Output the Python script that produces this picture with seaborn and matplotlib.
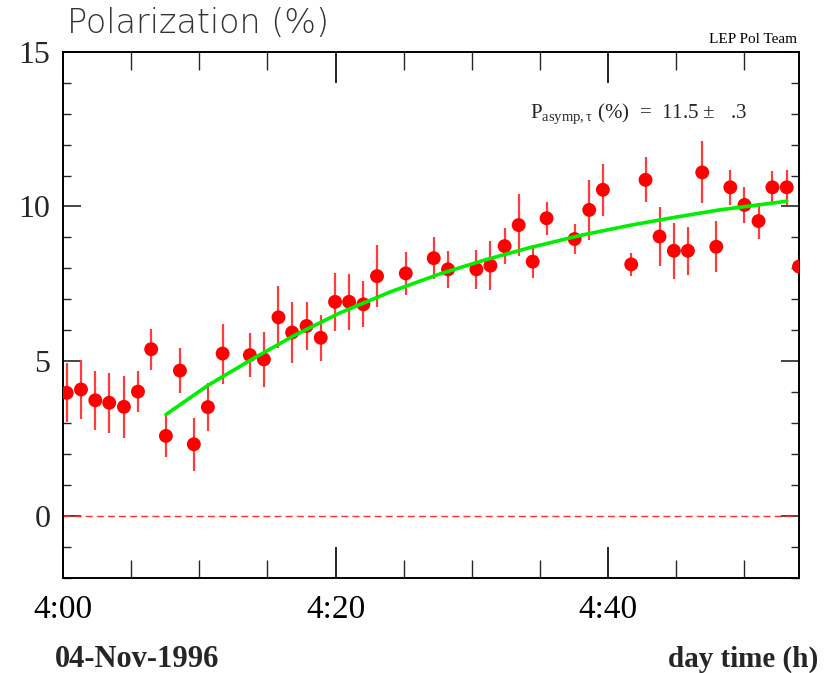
import matplotlib
matplotlib.use("Agg")
import matplotlib.pyplot as plt
from matplotlib.ticker import MultipleLocator, FixedLocator
import seaborn as sns
import pandas as pd

# ---- data (minutes after 4:00, polarization %, error) ----
time_min = [0.27, 1.32, 2.37, 3.39, 4.47, 5.50, 6.47, 7.55, 8.58, 9.60, 10.63, 11.71,
            13.71, 14.74, 15.81, 16.81, 17.87, 18.91, 19.96, 20.99, 22.04, 23.04,
            25.15, 27.20, 28.25, 30.33, 31.36, 32.40, 33.43, 34.46, 35.48, 37.54,
            38.61, 39.61, 41.69, 42.74, 43.77, 44.82, 45.85, 46.90, 47.93, 48.96,
            50.00, 51.03, 52.05, 53.10, 54.00]
polarization = [3.98, 4.09, 3.74, 3.66, 3.53, 4.02, 5.39, 2.59, 4.70, 2.32, 3.52, 5.25,
                5.20, 5.06, 6.42, 5.93, 6.14, 5.76, 6.92, 6.92, 6.84, 7.75,
                7.84, 8.33, 7.97, 7.97, 8.09, 8.72, 9.40, 8.22, 9.62, 8.95,
                9.89, 10.54, 8.13, 10.86, 9.03, 8.57, 8.57, 11.10, 8.70, 10.62,
                10.05, 9.53, 10.62, 10.62, 8.06]
pol_err = [0.95, 0.95, 0.96, 0.97, 1.00, 0.66, 0.66, 0.67, 0.74, 0.86, 0.78, 0.97,
           0.70, 0.90, 1.00, 1.00, 0.77, 0.75, 0.94, 0.90, 0.74, 1.00,
           0.70, 0.67, 0.60, 0.63, 0.78, 0.57, 0.99, 0.53, 0.54, 0.50,
           0.97, 0.84, 0.38, 0.73, 0.94, 0.90, 0.78, 1.00, 0.82, 0.57,
           0.58, 0.58, 0.54, 0.57, 0.50]

# fit curve
fit_time = [7.55, 10.66, 14.08, 17.0, 20.3, 24.0, 27.64, 31.0, 34.24, 38.0, 41.57, 45.0, 48.17, 53.1]
fit_pol = [3.28, 4.23, 5.12, 5.84, 6.56, 7.24, 7.82, 8.28, 8.67, 9.07, 9.39, 9.66, 9.89, 10.17]

x_ticks = [0, 20, 40]
x_tick_labels = ["4:00", "4:20", "4:40"]
y_ticks = [0, 5, 10, 15]

df = pd.DataFrame({"t": time_min, "p": polarization, "e": pol_err})
fit_df = pd.DataFrame({"t": fit_time, "p": fit_pol})

sns.set_style("ticks")
plt.rcParams["font.family"] = ["Liberation Serif", "DejaVu Serif"]
plt.rcParams["mathtext.fontset"] = "custom"
plt.rcParams["mathtext.rm"] = "Liberation Serif"
plt.rcParams["mathtext.it"] = "Liberation Serif:italic"

fig = plt.figure(figsize=(8.32, 6.73), dpi=100)
ax = fig.add_axes([63 / 832, 1 - 578 / 673, (799 - 63) / 832, (578 - 51.7) / 673])

# zero line
ax.axhline(0, color="#ff3030", lw=1.0, ls=(0, (5, 3)), zorder=1)

# error bars
ax.errorbar(df["t"], df["p"], yerr=df["e"], fmt="none", ecolor="#ff3b3b",
            elinewidth=1.6, capsize=0, zorder=2)
# points
sns.scatterplot(data=df, x="t", y="p", ax=ax, color="#ff0000", s=100,
                edgecolor="none", linewidth=0, zorder=3, legend=False)
# fit
sns.lineplot(data=fit_df, x="t", y="p", ax=ax, color="#00ee00", lw=2.6,
             zorder=4, legend=False)

ax.set_xlim(0, 54)
ax.set_ylim(-2, 15)
ax.set_xlabel("")
ax.set_ylabel("")

ax.xaxis.set_major_locator(FixedLocator(x_ticks))
ax.set_xticklabels(x_tick_labels)
ax.xaxis.set_minor_locator(MultipleLocator(5))
ax.yaxis.set_major_locator(FixedLocator(y_ticks))
ax.yaxis.set_minor_locator(MultipleLocator(1))

ax.tick_params(axis="x", which="major", direction="in", length=22, width=1.2,
               top=True, bottom=True, pad=12, labelsize=24, colors="black")
ax.tick_params(axis="x", which="minor", direction="in", length=13, width=1.0,
               top=True, bottom=True)
ax.tick_params(axis="y", which="major", direction="in", length=13, width=1.2,
               left=True, right=True, pad=9, labelsize=23)
ax.tick_params(axis="y", which="minor", direction="in", length=6, width=1.0,
               left=True, right=True)
for sp in ax.spines.values():
    sp.set_visible(True)
    sp.set_linewidth(1.4)
    sp.set_color("black")

# texts
fig.text(67 / 832, 1 - 33 / 673, "Polarization (%)", family=["DejaVu Sans"],
         fontweight=200, fontsize=24, color="#333333", va="baseline", ha="left")
fig.text(797 / 832, 1 - 43 / 673, "LEP Pol Team", fontsize=11, ha="right",
         va="baseline", color="black")
fig.text(530 / 832, 1 - 118 / 673, r"P$_{\mathrm{asymp,\tau}}$ (%)  =  11.5 ±   .3",
         fontsize=15, ha="left", va="baseline")
fig.text(55 / 832, 1 - 667 / 673, "04-Nov-1996", fontsize=22, fontweight="bold",
         ha="left", va="baseline")
fig.text(818 / 832, 1 - 667 / 673, "day time (h)", fontsize=21, fontweight="bold",
         ha="right", va="baseline")

fig.savefig("out.png", dpi=100)
